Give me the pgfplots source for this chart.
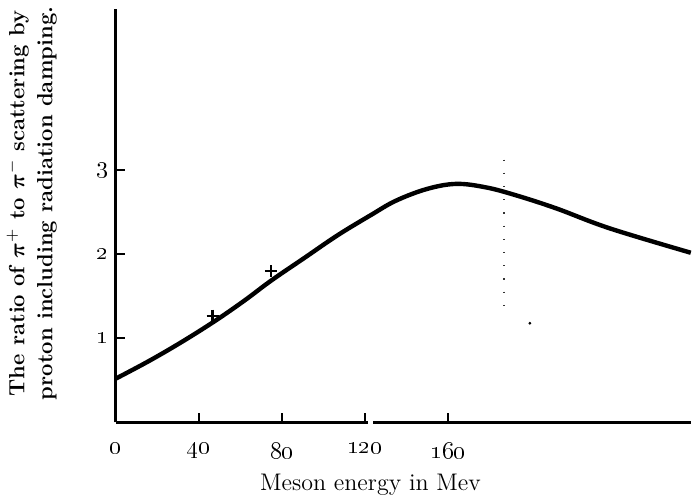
\documentclass[border=0pt]{standalone}
\usepackage{amsmath}
\usepackage{pgfplots}
\pgfplotsset{compat=1.18}
\begin{document}
\begin{tikzpicture}
\begin{axis}[
  scale only axis,
  width=287.5pt, height=206.5pt,
  xmin=0, xmax=277, ymin=0, ymax=4.92,
  axis lines=left,
  axis line style={-, line width=1.4pt},
  x axis line style={draw=none},
  tick align=inside,
  major tick length=4.5pt,
  tick style={line width=1pt, black},
  xtick={0,40,80,120,160},
  xticklabels={\oldstylenums{0},\oldstylenums{40},\oldstylenums{80},\oldstylenums{120},\oldstylenums{160}},
  ytick={1,2,3},
  yticklabels={\oldstylenums{1},\oldstylenums{2},\oldstylenums{3}},
  xticklabel style={yshift=-9pt, font=\large, inner sep=1pt},
  yticklabel style={font=\large},
  xlabel={Meson energy in Mev},
  xlabel style={at={(axis description cs:0.443,-0.152)}, anchor=center, font=\large, inner sep=1pt},
  ylabel={The ratio of $\boldsymbol{\pi}^+$ to $\boldsymbol{\pi}^-$ scattering by\\proton including radiation damping.},
  ylabel style={align=center, at={(axis description cs:-0.146,0.53)}, anchor=center,
    font=\fontsize{11}{14}\selectfont\bfseries},
  clip=false,
]
% broken x axis line
\addplot[black, line width=1.4pt, forget plot] coordinates {(0,0)(121.5,0)};
\addplot[black, line width=1.4pt, forget plot] coordinates {(124,0)(277,0)};
% computed ratio curve
\addplot[black, line width=2.2pt, smooth, tension=0.6] coordinates {
  (0,0.52)(16,0.73)(32,0.96)(48,1.21)(62,1.45)(75,1.69)(91,1.96)
  (107,2.23)(123,2.47)(135,2.64)(150,2.78)(164,2.84)(178,2.80)
  (192,2.71)(212,2.55)(238,2.31)(277,2.02)};
% experimental points
\addplot[only marks, mark=+, mark size=3pt, line width=1.2pt, black]
  coordinates {(46.7,1.27)(74.7,1.80)};
% faint dotted marker line
\addplot[black!80, line width=0.6pt, dash pattern=on 0.6pt off 6pt]
  coordinates {(187,3.13)(187,1.25)};
\addplot[only marks, mark=*, mark size=0.5pt, black] coordinates {(199.5,1.18)};
\end{axis}
\end{tikzpicture}
\end{document}
